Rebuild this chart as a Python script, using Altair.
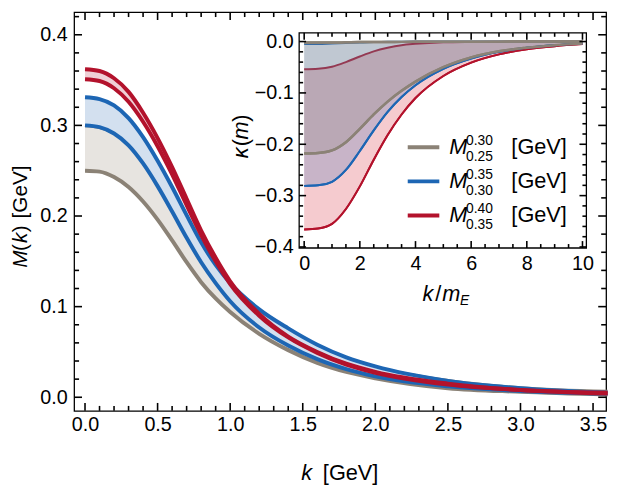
import altair as alt
import pandas as pd

# ---------------- main panel data: M(k) [GeV] ----------------
K = [0.0, 0.1, 0.2, 0.3, 0.4, 0.5, 0.6, 0.7, 0.8, 0.9, 1.0, 1.2, 1.4, 1.6, 1.8, 2.0, 2.5, 3.0, 3.6]
G1 = [0.250, 0.249, 0.243, 0.232, 0.216, 0.196, 0.173, 0.149, 0.127, 0.109, 0.094, 0.070, 0.052, 0.038, 0.028, 0.021, 0.010, 0.006, 0.003]
G2 = [0.300, 0.298, 0.292, 0.281, 0.264, 0.243, 0.219, 0.193, 0.167, 0.143, 0.122, 0.093, 0.072, 0.056, 0.043, 0.033, 0.018, 0.010, 0.006]
B1 = [0.300, 0.298, 0.291, 0.278, 0.258, 0.233, 0.205, 0.176, 0.149, 0.126, 0.106, 0.077, 0.057, 0.042, 0.031, 0.023, 0.012, 0.007, 0.004]
B2 = [0.331, 0.329, 0.322, 0.308, 0.287, 0.261, 0.232, 0.201, 0.171, 0.146, 0.126, 0.097, 0.076, 0.058, 0.044, 0.034, 0.018, 0.010, 0.005]
R1 = [0.351, 0.349, 0.341, 0.326, 0.304, 0.277, 0.246, 0.212, 0.179, 0.150, 0.125, 0.090, 0.066, 0.049, 0.036, 0.027, 0.014, 0.008, 0.004]
R2 = [0.362, 0.360, 0.352, 0.337, 0.314, 0.286, 0.254, 0.219, 0.184, 0.154, 0.128, 0.092, 0.067, 0.050, 0.037, 0.028, 0.015, 0.008, 0.005]

# ---------------- inset data: kappa(m) vs k/m_E ----------------
IK = [0, 0.5, 1, 1.5, 2, 2.5, 3, 3.5, 4, 5, 6, 7, 8, 9, 10]
IG_HI = [-0.002, -0.002, -0.002, -0.0015, -0.001, -0.001, -0.0008, -0.0006, -0.0005, -0.0003, -0.0002, -0.0001, 0.0, 0.0, 0.0]
IG_LO = [-0.218, -0.217, -0.212, -0.196, -0.170, -0.142, -0.117, -0.096, -0.078, -0.050, -0.031, -0.019, -0.012, -0.007, -0.004]
IB_HI = [-0.005, -0.005, -0.004, -0.003, -0.002, -0.001, -0.0005, -0.0002, 0.0, 0.0, 0.0, 0.0, 0.0, 0.0, 0.0]
IB_LO = [-0.281, -0.280, -0.273, -0.250, -0.213, -0.173, -0.137, -0.108, -0.085, -0.053, -0.033, -0.020, -0.012, -0.007, -0.004]
IR_HI = [-0.054, -0.053, -0.049, -0.040, -0.029, -0.019, -0.012, -0.007, -0.0045, -0.0015, -0.0006, -0.0002, 0.0, 0.0, 0.0]
IR_LO = [-0.366, -0.364, -0.355, -0.326, -0.282, -0.230, -0.182, -0.142, -0.110, -0.067, -0.041, -0.025, -0.015, -0.009, -0.005]

LEG_SUP = ["0.30", "0.35", "0.40"]
LEG_SUB = ["0.25", "0.30", "0.35"]

# ---------------- layout / style ----------------
W, H = 539, 404
X_DOM = [-0.075, 3.59]
Y_DOM = [-0.015, 0.425]
IX_DOM = [-0.18, 10.14]
IY_DOM = [-0.402, 0.017]
IX_RANGE = [228, 519]
IY_RANGE = [239, 21]

FONT = "Liberation Sans"
GRAY, GRAY_F = "#8b8276", "#e7e4e0"
BLUE, BLUE_F = "#1d66b4", "#d3e0ef"
RED, RED_F = "#b3122c", "#efd0d6"


def scale(dom, rng=None):
    if rng is None:
        return alt.Scale(domain=dom, nice=False, zero=False)
    return alt.Scale(domain=dom, range=rng, nice=False, zero=False)


def axis(orient, values, extra=0, fmt=".1f", pad=4):
    return alt.Axis(orient=orient, values=values, ticks=False, offset=-extra,
                    domain=False, grid=False, labels=True, title=None, format=fmt,
                    labelFont=FONT, labelFontSize=20, labelColor="black",
                    labelPadding=pad, labelFlush=False, labelOverlap=False)


def rng(a, b, step):
    n = int(round((b - a) / step))
    return [round(a + i * step, 4) for i in range(n + 1)]


MX_MAJ = rng(0, 3.5, 0.5)
MX_MIN = [v for v in rng(0, 3.5, 0.1) if v not in MX_MAJ]
MY_MAJ = rng(0, 0.4, 0.1)
MY_MIN = [v for v in rng(0, 0.42, 0.02) if v not in MY_MAJ]
IX_MAJ = rng(0, 10, 2)
IX_MIN = [v for v in rng(0, 10, 0.5) if v not in IX_MAJ]
IY_MAJ = rng(-0.4, 0.0, 0.1)
IY_MIN = [v for v in rng(-0.4, 0.0, 0.02) if v not in IY_MAJ]


def band(kv, lo, hi, line_c, fill_c, op, xs, ys, xa, ya, lw, lines_first=False):
    df = pd.DataFrame({"k": kv, "lo": lo, "hi": hi})
    base = alt.Chart(df)
    area = base.mark_area(interpolate="monotone", color=fill_c, opacity=op).encode(
        x=alt.X("k:Q", scale=xs, axis=xa), y=alt.Y("lo:Q", scale=ys, axis=ya), y2="hi:Q")
    l1 = base.mark_line(interpolate="monotone", color=line_c, strokeWidth=lw).encode(
        x=alt.X("k:Q", scale=xs, axis=xa), y=alt.Y("lo:Q", scale=ys, axis=ya))
    l2 = base.mark_line(interpolate="monotone", color=line_c, strokeWidth=lw).encode(
        x=alt.X("k:Q", scale=xs, axis=xa), y=alt.Y("hi:Q", scale=ys, axis=ya))
    return [l1, l2, area] if lines_first else [area, l1, l2]


def frame_ticks(tag, maj_x, min_x, maj_y, min_y, xdom, ydom, xpx, ypx, lmaj, lmin, xs, ys, xa, ya):
    """inward frame ticks on all four sides, drawn as short two-point line segments"""
    rows = []
    for vals, ln in [(maj_x, lmaj), (min_x, lmin)]:
        for t in vals:
            rows += [(f"{tag}b{t}_{ln}", t, ydom[0]), (f"{tag}b{t}_{ln}", t, ydom[0] + ln * ypx),
                     (f"{tag}t{t}_{ln}", t, ydom[1]), (f"{tag}t{t}_{ln}", t, ydom[1] - ln * ypx)]
    for vals, ln in [(maj_y, lmaj), (min_y, lmin)]:
        for t in vals:
            rows += [(f"{tag}l{t}_{ln}", xdom[0], t), (f"{tag}l{t}_{ln}", xdom[0] + ln * xpx, t),
                     (f"{tag}r{t}_{ln}", xdom[1], t), (f"{tag}r{t}_{ln}", xdom[1] - ln * xpx, t)]
    df = pd.DataFrame(rows, columns=["id", "x", "y"])
    return alt.Chart(df).mark_line(color="black", strokeWidth=1.6).encode(
        x=alt.X("x:Q", scale=xs, axis=xa), y=alt.Y("y:Q", scale=ys, axis=ya),
        detail="id:N")


# ---------------- main panel ----------------
mxs, mys = scale(X_DOM), scale(Y_DOM)
mxa = axis("bottom", MX_MAJ, 0, ".1f", 4)
mya = axis("left", MY_MAJ, 0, ".1f", 7)
MXPX = (X_DOM[1] - X_DOM[0]) / W
MYPX = (Y_DOM[1] - Y_DOM[0]) / H

main_layers = []
main_layers += band(K, G1, G2, GRAY, GRAY_F, 1, mxs, mys, mxa, mya, 4)
main_layers += band(K, B1, B2, BLUE, BLUE_F, 1, mxs, mys, mxa, mya, 4)
main_layers += band(K, R1, R2, RED, RED_F, 1, mxs, mys, mxa, mya, 4)
main_layers.append(frame_ticks("m", MX_MAJ, MX_MIN, MY_MAJ, MY_MIN, X_DOM, Y_DOM,
                               MXPX, MYPX, 8, 5, mxs, mys, mxa, mya))
main = alt.layer(*main_layers)

# ---------------- inset ----------------
ixs, iys = scale(IX_DOM, IX_RANGE), scale(IY_DOM, IY_RANGE)
ixa = axis("bottom", IX_MAJ, H - IY_RANGE[0], "d", 6)
iya = axis("left", IY_MAJ, IX_RANGE[0], ".1f", 6)
ix0, ix1 = IX_RANGE
iy0, iy1 = IY_RANGE
IXPX = (IX_DOM[1] - IX_DOM[0]) / (ix1 - ix0)
IYPX = (IY_DOM[1] - IY_DOM[0]) / (iy0 - iy1)

one = pd.DataFrame({"a": [0]})
inset_bg = alt.Chart(one).mark_rect(fill="white").encode(
    x=alt.value(ix0), x2=alt.value(ix1), y=alt.value(iy1), y2=alt.value(iy0))

inset_layers = []
inset_layers += band(IK, IR_LO, IR_HI, RED, "#d8303e", 0.25, ixs, iys, ixa, iya, 2, True)
inset_layers += band(IK, IB_LO, IB_HI, BLUE, "#2a64b0", 0.22, ixs, iys, ixa, iya, 2, True)
inset_layers += band(IK, IG_LO, IG_HI, GRAY, "#8a8070", 0.22, ixs, iys, ixa, iya, 2.5, True)
for lo, c, lw in [(IR_LO, RED, 2), (IB_LO, BLUE, 2), (IG_LO, GRAY, 2.5), (IG_HI, GRAY, 2.5)]:
    inset_layers.append(alt.Chart(pd.DataFrame({"k": IK, "v": lo})).mark_line(
        interpolate="monotone", color=c, strokeWidth=lw).encode(
        x=alt.X("k:Q", scale=ixs, axis=ixa), y=alt.Y("v:Q", scale=iys, axis=iya)))
inset_layers.append(frame_ticks("i", IX_MAJ, IX_MIN, IY_MAJ, IY_MIN, IX_DOM, IY_DOM,
                                IXPX, IYPX, 7, 4, ixs, iys, ixa, iya))
inset = alt.layer(*inset_layers)

inset_frame = alt.Chart(one).mark_rect(fillOpacity=0, stroke="black", strokeWidth=1.3).encode(
    x=alt.value(ix0), x2=alt.value(ix1), y=alt.value(iy1), y2=alt.value(iy0))


# ---------------- texts ----------------
def txt(s, x, y, size=22, italic=False, angle=0, align="left"):
    return alt.Chart(one).mark_text(text=s, font=FONT, fontSize=size,
                                    fontStyle="italic" if italic else "normal",
                                    align=align, baseline="alphabetic", angle=angle,
                                    color="black").encode(x=alt.value(x), y=alt.value(y))


texts = []
texts += [txt("k", 230, 474, italic=True), txt("[GeV]", 252, 474)]
yb = -48
texts += [txt("M", yb, 259, size=21, italic=True, angle=270), txt("(", yb, 242, size=21, angle=270),
          txt("k", yb, 234, size=21, italic=True, angle=270), txt(")", yb, 223, size=21, angle=270),
          txt("[GeV]", yb, 209, size=21, angle=270)]
ib = 176
texts += [txt("κ", ib, 148, italic=True, angle=270), txt("(", ib, 136, angle=270),
          txt("m", ib, 129, italic=True, angle=270), txt(")", ib, 111, angle=270)]
texts += [txt("k", 353, 293, italic=True), txt("/", 366, 293),
          txt("m", 373, 293, italic=True), txt("E", 391, 297, size=14, italic=True)]

for i, c in enumerate([GRAY, BLUE, RED]):
    dy = 34.5 * i
    texts.append(alt.Chart(one).mark_rule(color=c, strokeWidth=4).encode(
        x=alt.value(338), x2=alt.value(370), y=alt.value(137 + dy)))
    texts += [txt("M", 380, 144 + dy, italic=True),
              txt(LEG_SUP[i], 397, 135 + dy, size=14),
              txt(LEG_SUB[i], 397, 151 + dy, size=14),
              txt("[GeV]", 443, 144 + dy)]

chart = alt.layer(
    main, inset_bg, inset, inset_frame, *texts
).resolve_scale(x="independent", y="independent").properties(
    width=W, height=H,
    autosize=alt.AutoSizeParams(type="none"),
    padding={"left": 67, "top": 1, "right": 9, "bottom": 75},
).configure_view(stroke="black", strokeWidth=1.3)

chart.save("out.html", embed_options={"renderer": "svg", "actions": False})
